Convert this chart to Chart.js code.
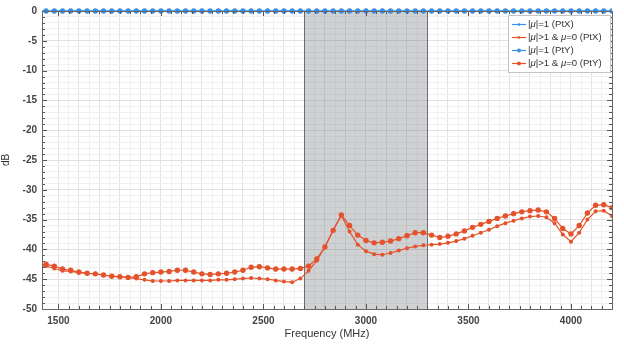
<!DOCTYPE html>
<html>
<head>
<meta charset="utf-8">
<script src="https://cdn.jsdelivr.net/npm/chart.js@4"></script>
<style>
  body { margin: 0; background: #fff; }
  #wrap { width: 624px; height: 344px; }
</style>
</head>
<body>
<div id="wrap"><canvas id="gainChart" width="624" height="344"></canvas></div>
<script>
// frequency points (MHz)
const freqMHz = [1400, 1440, 1480, 1520, 1560, 1600, 1640, 1680, 1720, 1760,
    1800, 1840, 1880, 1920, 1960, 2000, 2040, 2080, 2120, 2160,
    2200, 2240, 2280, 2320, 2360, 2400, 2440, 2480, 2520, 2560,
    2600, 2640, 2680, 2720, 2760, 2800, 2840, 2880, 2920, 2960,
    3000, 3040, 3080, 3120, 3160, 3200, 3240, 3280, 3320, 3360,
    3400, 3440, 3480, 3520, 3560, 3600, 3640, 3680, 3720, 3760,
    3800, 3840, 3880, 3920, 3960, 4000, 4040, 4080, 4120, 4160, 4200];

// |mu|=1 -> flat at 0 dB for both ports
const unitPtX = [0, 0, 0, 0, 0, 0, 0, 0, 0, 0, 0, 0, 0, 0, 0, 0, 0, 0, 0, 0,
    0, 0, 0, 0, 0, 0, 0, 0, 0, 0, 0, 0, 0, 0, 0, 0, 0, 0, 0, 0,
    0, 0, 0, 0, 0, 0, 0, 0, 0, 0, 0, 0, 0, 0, 0, 0, 0, 0, 0, 0,
    0, 0, 0, 0, 0, 0, 0, 0, 0, 0, 0];
const unitPtY = [0, 0, 0, 0, 0, 0, 0, 0, 0, 0, 0, 0, 0, 0, 0, 0, 0, 0, 0, 0,
    0, 0, 0, 0, 0, 0, 0, 0, 0, 0, 0, 0, 0, 0, 0, 0, 0, 0, 0, 0,
    0, 0, 0, 0, 0, 0, 0, 0, 0, 0, 0, 0, 0, 0, 0, 0, 0, 0, 0, 0,
    0, 0, 0, 0, 0, 0, 0, 0, 0, 0, 0];

// |mu|>1 & mu=0
const leakPtX = [-42.7, -42.8, -43.2, -43.6, -43.7, -43.9, -44.0, -44.1, -44.3, -44.5,
    -44.6, -44.7, -44.9, -45.1, -45.3, -45.3, -45.3, -45.2, -45.2, -45.2,
    -45.2, -45.2, -45.1, -45.1, -45.0, -44.9, -44.8, -44.9, -45.0, -45.2,
    -45.4, -45.5, -44.9, -43.6, -41.9, -39.6, -36.8, -34.3, -37.0, -39.2,
    -40.3, -40.8, -40.9, -40.6, -40.2, -39.8, -39.5, -39.3, -39.2, -39.1,
    -38.9, -38.6, -38.2, -37.7, -37.2, -36.7, -36.1, -35.6, -35.2, -34.8,
    -34.5, -34.4, -34.6, -35.6, -37.5, -38.7, -37.2, -35.0, -33.6, -33.5, -34.4];
const leakPtY = [-42.6, -42.5, -42.8, -43.3, -43.5, -43.8, -44.0, -44.1, -44.3, -44.5,
    -44.6, -44.7, -44.6, -44.1, -43.9, -43.8, -43.7, -43.5, -43.5, -43.8,
    -44.1, -44.2, -44.1, -44.0, -43.8, -43.5, -43.0, -42.9, -43.1, -43.3,
    -43.3, -43.3, -43.2, -42.8, -41.6, -39.6, -36.8, -34.2, -36.0, -37.6,
    -38.5, -38.9, -38.8, -38.6, -38.2, -37.7, -37.2, -37.2, -37.6, -38.0,
    -37.8, -37.4, -36.9, -36.3, -35.8, -35.3, -34.8, -34.4, -34.0, -33.7,
    -33.5, -33.4, -33.7, -34.8, -36.5, -37.4, -36.0, -33.9, -32.6, -32.5, -33.0];

// shaded band (MHz)
const bandMHz = [2700, 3300];

const legendLabels = ['|\u03bc|=1 (PtX)', '|\u03bc|>1 & \u03bc=0 (PtX)', '|\u03bc|=1 (PtY)', '|\u03bc|>1 & \u03bc=0 (PtY)'];

const BLUE = '#3b8fe8';
const RED = '#e4522c';

function pts(ys) {
    return freqMHz.map((f, i) => ({ x: f, y: ys[i] }));
}

// gray band + box + inside ticks, matlab look
const bandPlugin = {
    id: 'band',
    beforeDatasetsDraw(chart) {
        const { ctx, chartArea, scales } = chart;
        const x0 = scales.x.getPixelForValue(bandMHz[0]);
        const x1 = scales.x.getPixelForValue(bandMHz[1]);
        ctx.save();
        ctx.fillStyle = 'rgba(110,115,122,0.33)';
        ctx.fillRect(x0, chartArea.top, x1 - x0, chartArea.bottom - chartArea.top);
        ctx.strokeStyle = '#6a6d72';
        ctx.lineWidth = 1;
        ctx.beginPath();
        ctx.moveTo(Math.round(x0) + 0.5, chartArea.top);
        ctx.lineTo(Math.round(x0) + 0.5, chartArea.bottom);
        ctx.moveTo(Math.round(x1) + 0.5, chartArea.top);
        ctx.lineTo(Math.round(x1) + 0.5, chartArea.bottom);
        ctx.stroke();
        ctx.restore();
    },
    afterDraw(chart) {
        const { ctx, chartArea, scales } = chart;
        const a = chartArea;
        ctx.save();
        ctx.strokeStyle = '#555';
        ctx.lineWidth = 1;
        ctx.beginPath();
        scales.x.ticks.forEach(t => {
            const px = Math.round(scales.x.getPixelForValue(t.value)) + 0.5;
            const len = t.value % 500 === 0 ? 5 : 3;
            ctx.moveTo(px, a.bottom); ctx.lineTo(px, a.bottom - len);
            ctx.moveTo(px, a.top); ctx.lineTo(px, a.top + len);
        });
        scales.y.ticks.forEach(t => {
            const py = Math.round(scales.y.getPixelForValue(t.value)) + 0.5;
            const len = t.value % 5 === 0 ? 5 : 3;
            ctx.moveTo(a.left, py); ctx.lineTo(a.left + len, py);
            ctx.moveTo(a.right, py); ctx.lineTo(a.right - len, py);
        });
        ctx.stroke();
        ctx.strokeStyle = '#666';
        ctx.strokeRect(Math.round(a.left) + 0.5, Math.round(a.top) + 0.5,
            Math.round(a.right - a.left), Math.round(a.bottom - a.top));

        // legend box
        const lx = 508, ly = 15, lw = 102, lh = 57;
        ctx.fillStyle = '#fff';
        ctx.fillRect(lx, ly, lw, lh);
        ctx.strokeStyle = '#c4c4c4';
        ctx.strokeRect(lx + 0.5, ly + 0.5, lw, lh);
        const colors = [BLUE, RED, BLUE, RED];
        const big = [false, false, true, true];
        legendLabels.forEach((lab, i) => {
            const y = ly + 9.5 + i * 13;
            ctx.strokeStyle = colors[i];
            ctx.lineWidth = 1.2;
            ctx.beginPath();
            ctx.moveTo(lx + 4, y); ctx.lineTo(lx + 18, y);
            ctx.stroke();
            ctx.fillStyle = colors[i];
            ctx.beginPath();
            ctx.arc(lx + 11, y, big[i] ? 2 : 1.3, 0, Math.PI * 2);
            ctx.fill();
            // text, mu in italic
            ctx.fillStyle = '#333';
            ctx.textBaseline = 'middle';
            let tx = lx + 20;
            lab.split(/(\u03bc)/).forEach(part => {
                if (!part) return;
                ctx.font = (part === '\u03bc' ? 'italic ' : '') + '9.6px "Liberation Sans", Arial, sans-serif';
                ctx.fillText(part, tx, y);
                tx += ctx.measureText(part).width;
            });
        });
        ctx.restore();
    }
};

const ctx = document.getElementById('gainChart').getContext('2d');

new Chart(ctx, {
    type: 'line',
    data: {
        datasets: [{
            label: legendLabels[0],
            data: pts(unitPtX),
            borderColor: BLUE,
            backgroundColor: BLUE,
            borderWidth: 1.2,
            pointRadius: 1.4,
            clip: { left: 0, top: 6, right: 0, bottom: 0 }
        }, {
            label: legendLabels[1],
            data: pts(leakPtX),
            borderColor: RED,
            backgroundColor: RED,
            borderWidth: 1.2,
            pointRadius: 1.4
        }, {
            label: legendLabels[2],
            data: pts(unitPtY),
            borderColor: BLUE,
            backgroundColor: BLUE,
            borderWidth: 1.2,
            pointRadius: 2.1,
            clip: { left: 0, top: 6, right: 0, bottom: 0 }
        }, {
            label: legendLabels[3],
            data: pts(leakPtY),
            borderColor: RED,
            backgroundColor: RED,
            borderWidth: 1.2,
            pointRadius: 2.1
        }]
    },
    options: {
        responsive: false,
        animation: false,
        layout: { padding: { top: 2, right: 12, left: 0, bottom: 0 } },
        plugins: {
            legend: { display: false },
            tooltip: { enabled: false }
        },
        scales: {
            x: {
                type: 'linear',
                min: 1420,
                max: 4200,
                afterFit: s => { s.height = 35; },
                ticks: {
                    stepSize: 50,
                    autoSkip: false,
                    maxRotation: 0,
                    padding: 6,
                    color: '#444',
                    font: { family: '"Liberation Sans", Arial, sans-serif', size: 10, weight: 'bold' },
                    callback: v => (v % 500 === 0 ? String(v) : '')
                },
                grid: {
                    drawTicks: false,
                    color: c => (c.tick && c.tick.value % 100 === 0 ? '#e3e3e3' : '#f1f1f1'),
                    lineWidth: 1
                },
                border: { display: false },
                title: {
                    display: true,
                    text: 'Frequency (MHz)',
                    color: '#333',
                    padding: { top: 0, bottom: 3 },
                    font: { family: '"Liberation Sans", Arial, sans-serif', size: 11 }
                }
            },
            y: {
                min: -50,
                max: 0,
                afterFit: s => { s.width = 42; },
                ticks: {
                    stepSize: 1,
                    autoSkip: false,
                    padding: 5,
                    color: '#444',
                    font: { family: '"Liberation Sans", Arial, sans-serif', size: 10, weight: 'bold' },
                    callback: v => (v % 5 === 0 ? String(v) : '')
                },
                grid: {
                    drawTicks: false,
                    color: c => (c.tick && c.tick.value % 5 === 0 ? '#e0e0e0' : '#f0f0f0'),
                    lineWidth: 1
                },
                border: { display: false },
                title: {
                    display: true,
                    text: 'dB',
                    color: '#333',
                    padding: { top: 0, bottom: 4 },
                    font: { family: '"Liberation Sans", Arial, sans-serif', size: 10 }
                }
            }
        }
    },
    plugins: [bandPlugin]
});
</script>
</body>
</html>
